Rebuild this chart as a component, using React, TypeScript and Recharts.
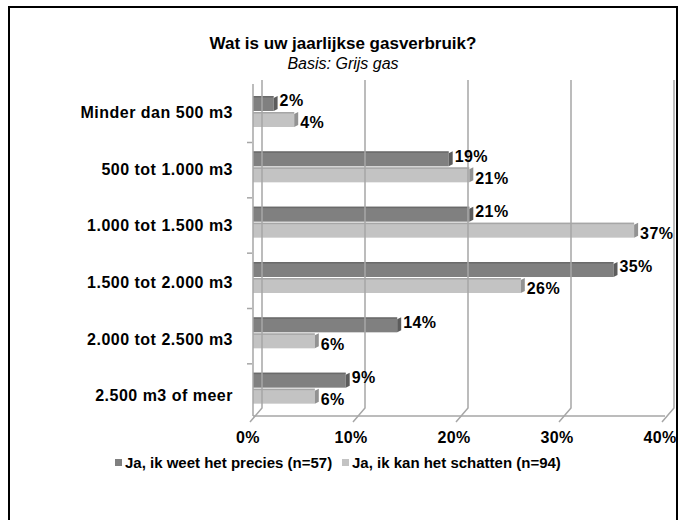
import React from "react";
import { BarChart, Bar, XAxis, YAxis, LabelList } from "recharts";

const categories = [
  "Minder dan 500 m3",
  "500 tot 1.000 m3",
  "1.000 tot 1.500 m3",
  "1.500 tot 2.000 m3",
  "2.000 tot 2.500 m3",
  "2.500 m3 of meer",
];
const preciesValues = [2, 19, 21, 35, 14, 9];
const schattenValues = [4, 21, 37, 26, 6, 6];
const xTicks = [0, 10, 20, 30, 40];
const seriesNames = ["Ja, ik weet het precies (n=57)", "Ja, ik kan het schatten (n=94)"];
const title = "Wat is uw jaarlijkse gasverbruik?";
const subtitle = "Basis: Grijs gas";

const data = categories.map((cat, i) => ({
  cat,
  precies: preciesValues[i],
  schatten: schattenValues[i],
}));

const FONT = "'Liberation Sans', Arial, sans-serif";
const DARK = "#808080";
const DARK_SIDE = "#5c5c5c";
const LIGHT = "#c3c3c3";
const LIGHT_SIDE = "#929292";
const GRID = "#a6a6a6";

const makeShape = (front: string, side: string) => (props: any) => {
  const { x, y, width, height } = props;
  if (width <= 0) return <g />;
  const d = 4;
  return (
    <g>
      <rect x={x} y={y} width={width} height={height} fill={front} />
      <rect x={x} y={y} width={width} height={1.5} fill={side} opacity={0.6} />
      <polygon
        points={`${x + width},${y + 2} ${x + width + d},${y} ${x + width + d},${y + height - 2} ${x + width},${y + height}`}
        fill={side}
      />
    </g>
  );
};

const XTick = (props: any) => {
  const { x, y, payload } = props;
  return (
    <g>
      <polyline
        points={`${x - 3},${y + 6} ${x + 9},${y - 8} ${x + 9},${y - 336}`}
        fill="none"
        stroke={GRID}
        strokeWidth={1.5}
      />
      <text
        x={x - 5}
        y={y + 27}
        textAnchor="middle"
        fontFamily={FONT}
        fontWeight="bold"
        fontSize={16}
        letterSpacing={0.4}
        fill="#000"
      >
        {payload.value}%
      </text>
    </g>
  );
};

const YTick = (props: any) => {
  const { x, y, payload, index } = props;
  return (
    <g>
      {index > 0 && (
        <line x1={x + 14} x2={x + 19} y1={y - 24.5} y2={y - 24.5} stroke={GRID} strokeWidth={1.5} />
      )}
      <text
        x={x}
        y={y + 6.5 + 1.3 * index}
        textAnchor="end"
        fontFamily={FONT}
        fontWeight="bold"
        fontSize={16}
        letterSpacing={0.5}
        fill="#000"
      >
        {payload.value}
      </text>
    </g>
  );
};

const labelStyle = { fontFamily: FONT, fontWeight: "bold", fontSize: 16, fill: "#000", letterSpacing: 0.4 };

export default function App() {
  return (
    <div
      style={{
        position: "absolute",
        left: 0,
        top: 0,
        width: 686,
        height: 520,
        overflow: "hidden",
        background: "#fff",
        fontFamily: FONT,
      }}
    >
      <div
        style={{
          position: "absolute",
          left: 8,
          top: 6,
          width: 670,
          height: 540,
          border: "2px solid #000",
          boxSizing: "border-box",
        }}
      />
      <div
        style={{
          position: "absolute",
          left: 0,
          width: 686,
          top: 34,
          textAlign: "center",
          fontWeight: "bold",
          fontSize: 17,
          color: "#000",
          lineHeight: "20px",
        }}
      >
        {title}
      </div>
      <div
        style={{
          position: "absolute",
          left: 0,
          width: 686,
          top: 54,
          textAlign: "center",
          fontStyle: "italic",
          fontSize: 16,
          color: "#000",
          lineHeight: "20px",
        }}
      >
        {subtitle}
      </div>
      <div style={{ position: "absolute", left: 0, top: 0 }}>
        <BarChart
          width={686}
          height={520}
          data={data}
          layout="vertical"
          margin={{ top: 84, right: 21, bottom: 74, left: 0 }}
          barSize={15}
          barGap={1}
        >
          <XAxis
            type="number"
            domain={[0, 40]}
            ticks={xTicks}
            tickSize={0}
            tickMargin={0}
            height={30}
            axisLine={{ stroke: GRID, strokeWidth: 1.5 }}
            tick={<XTick />}
            interval={0}
          />
          <YAxis
            type="category"
            dataKey="cat"
            width={253}
            tickSize={0}
            tickMargin={20}
            axisLine={{ stroke: GRID, strokeWidth: 1.5 }}
            tick={<YTick />}
            interval={0}
          />
          <Bar dataKey="precies" fill={DARK} shape={makeShape(DARK, DARK_SIDE)} isAnimationActive={false}>
            <LabelList
              dataKey="precies"
              position="right"
              offset={6}
              formatter={(v: any) => `${v}%`}
              style={labelStyle}
              dy={-3}
            />
          </Bar>
          <Bar dataKey="schatten" fill={LIGHT} shape={makeShape(LIGHT, LIGHT_SIDE)} isAnimationActive={false}>
            <LabelList
              dataKey="schatten"
              position="right"
              offset={6}
              formatter={(v: any) => `${v}%`}
              style={labelStyle}
              dy={3}
            />
          </Bar>
        </BarChart>
      </div>
      <div
        style={{
          position: "absolute",
          left: 0,
          top: 453,
          width: 686,
          height: 20,
          fontWeight: "bold",
          fontSize: 15,
          color: "#000",
        }}
      >
        <div style={{ position: "absolute", left: 115, top: 6, width: 7, height: 7, background: DARK }} />
        <div style={{ position: "absolute", left: 125, top: 0, lineHeight: "20px", whiteSpace: "nowrap" }}>
          {seriesNames[0]}
        </div>
        <div style={{ position: "absolute", left: 342, top: 6, width: 7, height: 7, background: LIGHT }} />
        <div style={{ position: "absolute", left: 352, top: 0, lineHeight: "20px", whiteSpace: "nowrap" }}>
          {seriesNames[1]}
        </div>
      </div>
    </div>
  );
}
